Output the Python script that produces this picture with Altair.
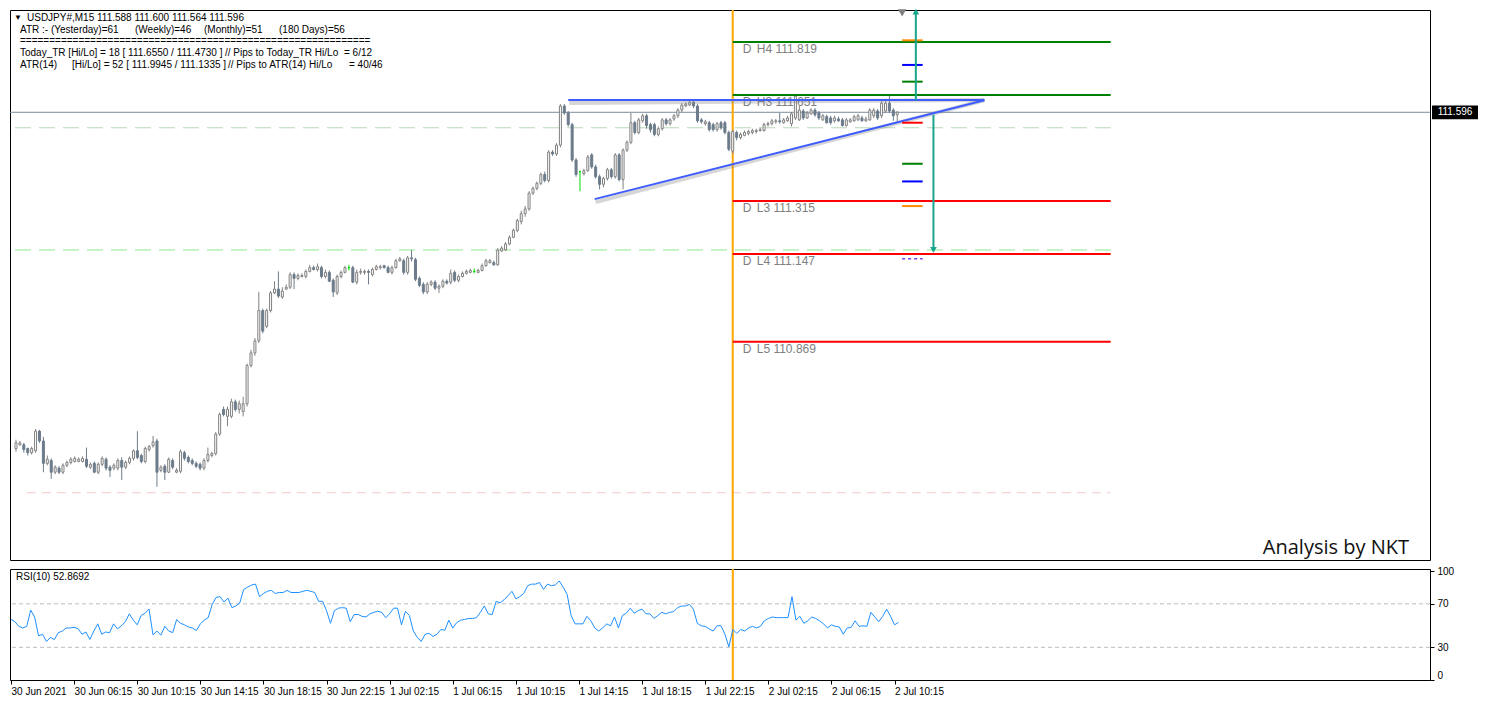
import json
import numpy as np
import pandas as pd
import altair as alt

# ---------------- data ----------------
opens = [
    110.531, 110.543, 110.543, 110.531, 110.518, 110.524, 110.586, 110.555, 110.484, 110.493,
    110.456, 110.469, 110.456, 110.478, 110.487, 110.490, 110.490, 110.490, 110.497, 110.472,
    110.484, 110.456, 110.481, 110.497, 110.472, 110.469, 110.469, 110.493, 110.472, 110.487,
    110.500, 110.524, 110.509, 110.490, 110.528, 110.540, 110.555, 110.462, 110.475, 110.456,
    110.493, 110.456, 110.459, 110.518, 110.503, 110.493, 110.484, 110.481, 110.469, 110.493,
    110.509, 110.515, 110.577, 110.655, 110.633, 110.633, 110.679, 110.655, 110.648, 110.673,
    110.794, 110.834, 110.872, 110.968, 110.918, 110.968, 111.024, 111.036, 111.011, 111.036,
    111.042, 111.082, 111.070, 111.076, 111.076, 111.092, 111.104, 111.098, 111.104, 111.076,
    111.089, 111.064, 111.024, 111.076, 111.089, 111.104, 111.104, 111.058, 111.089, 111.089,
    111.092, 111.082, 111.098, 111.104, 111.110, 111.104, 111.089, 111.104, 111.126, 111.126,
    111.089, 111.135, 111.129, 111.070, 111.051, 111.027, 111.051, 111.058, 111.039, 111.045,
    111.061, 111.058, 111.089, 111.064, 111.076, 111.086, 111.089, 111.092, 111.089, 111.095,
    111.110, 111.120, 111.120, 111.113, 111.157, 111.160, 111.179, 111.200, 111.222, 111.250,
    111.275, 111.290, 111.340, 111.355, 111.371, 111.399, 111.380, 111.470, 111.464, 111.492,
    111.616, 111.594, 111.557, 111.445, 111.408, 111.402, 111.411, 111.461, 111.423, 111.392,
    111.368, 111.386, 111.414, 111.392, 111.461, 111.383, 111.476, 111.501, 111.563, 111.532,
    111.569, 111.585, 111.557, 111.557, 111.526, 111.544, 111.572, 111.560, 111.575, 111.585,
    111.603, 111.616, 111.619, 111.628, 111.616, 111.572, 111.560, 111.563, 111.557, 111.541,
    111.563, 111.563, 111.532, 111.473, 111.532, 111.516, 111.523, 111.529, 111.532, 111.535,
    111.538, 111.538, 111.557, 111.560, 111.566, 111.569, 111.563, 111.569, 111.560, 111.578,
    111.572, 111.600, 111.578, 111.591, 111.603, 111.594, 111.572, 111.582, 111.578, 111.569,
    111.575, 111.572, 111.554, 111.566, 111.569, 111.572, 111.578, 111.569, 111.572, 111.585,
    111.600, 111.585, 111.600, 111.625, 111.603, 111.588,
]
highs = [
    110.559, 110.555, 110.549, 110.534, 110.537, 110.593, 110.590, 110.568, 110.509, 110.500,
    110.478, 110.475, 110.484, 110.493, 110.503, 110.506, 110.503, 110.506, 110.534, 110.487,
    110.490, 110.487, 110.506, 110.503, 110.478, 110.484, 110.500, 110.503, 110.493, 110.506,
    110.528, 110.586, 110.515, 110.537, 110.543, 110.571, 110.562, 110.478, 110.481, 110.503,
    110.500, 110.469, 110.528, 110.524, 110.509, 110.500, 110.490, 110.487, 110.500, 110.534,
    110.521, 110.583, 110.645, 110.664, 110.664, 110.689, 110.686, 110.683, 110.695, 110.800,
    110.844, 110.881, 111.027, 110.974, 110.974, 111.030, 111.061, 111.092, 111.042, 111.051,
    111.089, 111.089, 111.086, 111.086, 111.098, 111.113, 111.110, 111.117, 111.110, 111.098,
    111.095, 111.070, 111.082, 111.095, 111.110, 111.113, 111.110, 111.098, 111.101, 111.098,
    111.098, 111.104, 111.113, 111.113, 111.113, 111.110, 111.110, 111.132, 111.138, 111.132,
    111.141, 111.160, 111.135, 111.076, 111.058, 111.058, 111.064, 111.064, 111.051, 111.067,
    111.067, 111.098, 111.095, 111.082, 111.092, 111.098, 111.101, 111.101, 111.101, 111.117,
    111.132, 111.132, 111.126, 111.166, 111.172, 111.185, 111.206, 111.228, 111.259, 111.284,
    111.299, 111.346, 111.361, 111.377, 111.405, 111.408, 111.476, 111.476, 111.498, 111.622,
    111.622, 111.600, 111.563, 111.451, 111.411, 111.417, 111.461, 111.467, 111.430, 111.399,
    111.392, 111.420, 111.420, 111.467, 111.467, 111.482, 111.507, 111.594, 111.569, 111.578,
    111.591, 111.591, 111.563, 111.563, 111.551, 111.578, 111.578, 111.578, 111.591, 111.609,
    111.625, 111.628, 111.634, 111.634, 111.622, 111.578, 111.572, 111.569, 111.563, 111.566,
    111.569, 111.569, 111.538, 111.541, 111.538, 111.532, 111.538, 111.541, 111.544, 111.544,
    111.547, 111.563, 111.566, 111.575, 111.575, 111.594, 111.578, 111.585, 111.597, 111.653,
    111.616, 111.606, 111.600, 111.609, 111.609, 111.600, 111.591, 111.588, 111.585, 111.585,
    111.582, 111.578, 111.578, 111.578, 111.588, 111.591, 111.585, 111.582, 111.609, 111.609,
    111.606, 111.631, 111.631, 111.650, 111.609, 111.600,
]
lows = [
    110.521, 110.540, 110.518, 110.509, 110.512, 110.518, 110.549, 110.456, 110.478, 110.435,
    110.450, 110.450, 110.450, 110.472, 110.481, 110.487, 110.487, 110.487, 110.469, 110.466,
    110.453, 110.450, 110.475, 110.462, 110.441, 110.462, 110.462, 110.431, 110.466, 110.481,
    110.493, 110.497, 110.484, 110.484, 110.521, 110.534, 110.410, 110.456, 110.431, 110.453,
    110.466, 110.453, 110.453, 110.493, 110.484, 110.478, 110.469, 110.462, 110.462, 110.487,
    110.503, 110.509, 110.571, 110.633, 110.602, 110.627, 110.648, 110.642, 110.633, 110.664,
    110.788, 110.825, 110.865, 110.896, 110.912, 110.962, 111.020, 111.008, 111.005, 111.033,
    111.036, 111.036, 111.064, 111.073, 111.070, 111.089, 111.095, 111.092, 111.070, 111.070,
    111.058, 111.011, 111.017, 111.070, 111.086, 111.095, 111.055, 111.051, 111.082, 111.082,
    111.051, 111.076, 111.095, 111.098, 111.101, 111.086, 111.082, 111.101, 111.123, 111.082,
    111.082, 111.123, 111.061, 111.042, 111.020, 111.020, 111.045, 111.033, 111.024, 111.039,
    111.051, 111.051, 111.058, 111.058, 111.073, 111.082, 111.086, 111.086, 111.086, 111.092,
    111.107, 111.117, 111.110, 111.110, 111.154, 111.157, 111.175, 111.197, 111.216, 111.241,
    111.265, 111.284, 111.334, 111.349, 111.365, 111.374, 111.374, 111.458, 111.458, 111.485,
    111.588, 111.551, 111.439, 111.392, 111.346, 111.396, 111.408, 111.417, 111.386, 111.352,
    111.358, 111.380, 111.386, 111.386, 111.377, 111.352, 111.470, 111.495, 111.526, 111.526,
    111.563, 111.544, 111.532, 111.520, 111.520, 111.538, 111.554, 111.554, 111.569, 111.578,
    111.597, 111.613, 111.616, 111.609, 111.563, 111.560, 111.554, 111.535, 111.535, 111.535,
    111.541, 111.526, 111.473, 111.464, 111.507, 111.510, 111.520, 111.523, 111.526, 111.529,
    111.535, 111.535, 111.551, 111.554, 111.560, 111.560, 111.560, 111.566, 111.551, 111.572,
    111.569, 111.572, 111.575, 111.588, 111.582, 111.572, 111.569, 111.560, 111.557, 111.563,
    111.566, 111.551, 111.551, 111.563, 111.566, 111.569, 111.566, 111.566, 111.569, 111.578,
    111.572, 111.578, 111.594, 111.594, 111.569, 111.564,
]
closes = [
    110.549, 110.549, 110.528, 110.518, 110.531, 110.586, 110.555, 110.484, 110.497, 110.456,
    110.472, 110.456, 110.478, 110.487, 110.497, 110.500, 110.497, 110.500, 110.475, 110.481,
    110.456, 110.481, 110.500, 110.469, 110.462, 110.478, 110.493, 110.472, 110.487, 110.500,
    110.524, 110.503, 110.490, 110.531, 110.537, 110.552, 110.456, 110.472, 110.456, 110.497,
    110.472, 110.462, 110.521, 110.500, 110.490, 110.484, 110.475, 110.469, 110.493, 110.512,
    110.515, 110.577, 110.639, 110.639, 110.655, 110.679, 110.655, 110.673, 110.673, 110.794,
    110.834, 110.872, 110.968, 110.903, 110.968, 111.024, 111.036, 111.014, 111.030, 111.042,
    111.082, 111.070, 111.079, 111.079, 111.092, 111.104, 111.098, 111.107, 111.076, 111.089,
    111.061, 111.027, 111.076, 111.089, 111.104, 111.104, 111.058, 111.089, 111.092, 111.092,
    111.089, 111.098, 111.107, 111.107, 111.104, 111.089, 111.104, 111.126, 111.132, 111.089,
    111.135, 111.132, 111.067, 111.048, 111.027, 111.051, 111.058, 111.039, 111.045, 111.061,
    111.055, 111.086, 111.064, 111.076, 111.086, 111.092, 111.095, 111.092, 111.095, 111.110,
    111.126, 111.126, 111.113, 111.160, 111.166, 111.179, 111.200, 111.222, 111.253, 111.275,
    111.290, 111.340, 111.355, 111.371, 111.399, 111.380, 111.470, 111.464, 111.492, 111.616,
    111.594, 111.557, 111.445, 111.399, 111.408, 111.411, 111.454, 111.423, 111.392, 111.368,
    111.386, 111.414, 111.392, 111.461, 111.383, 111.476, 111.501, 111.563, 111.532, 111.572,
    111.585, 111.554, 111.541, 111.526, 111.544, 111.572, 111.560, 111.572, 111.585, 111.603,
    111.619, 111.622, 111.628, 111.616, 111.569, 111.566, 111.566, 111.541, 111.541, 111.560,
    111.547, 111.532, 111.479, 111.535, 111.516, 111.526, 111.532, 111.535, 111.538, 111.538,
    111.541, 111.557, 111.560, 111.569, 111.569, 111.566, 111.572, 111.578, 111.591, 111.647,
    111.603, 111.578, 111.594, 111.603, 111.588, 111.578, 111.585, 111.563, 111.563, 111.578,
    111.569, 111.554, 111.572, 111.572, 111.582, 111.585, 111.569, 111.575, 111.603, 111.603,
    111.578, 111.625, 111.625, 111.600, 111.585, 111.596,
]
rsi_values = [
    55.6, 53.6, 49.3, 47.8, 49.3, 64.2, 57.9, 40.6, 42.0, 35.4,
    39.2, 37.2, 43.5, 44.9, 47.8, 47.8, 48.4, 47.2, 42.1, 44.1,
    37.2, 45.0, 51.6, 42.1, 44.1, 43.5, 51.6, 47.0, 49.8, 53.6,
    60.8, 55.0, 50.7, 59.3, 61.4, 65.1, 41.5, 45.0, 41.2, 49.3,
    45.0, 43.5, 55.6, 52.1, 50.7, 48.7, 47.8, 45.5, 51.6, 55.0,
    57.3, 69.4, 75.8, 76.6, 71.7, 75.2, 66.5, 68.0, 70.9, 83.2,
    85.3, 87.3, 88.1, 76.6, 79.5, 81.5, 82.4, 79.5, 80.4, 80.4,
    82.4, 80.4, 80.4, 80.4, 81.5, 82.4, 81.5, 80.4, 72.3, 72.3,
    63.7, 52.1, 63.7, 66.0, 66.5, 66.0, 53.6, 60.2, 60.2, 58.5,
    57.9, 60.8, 62.2, 63.1, 62.2, 57.3, 60.8, 66.0, 66.0, 50.7,
    63.1, 59.3, 45.0, 39.2, 35.4, 42.1, 42.9, 40.0, 42.1, 46.4,
    45.8, 55.0, 47.8, 52.7, 55.0, 55.6, 56.5, 56.5, 57.3, 62.2,
    68.0, 60.8, 60.2, 72.3, 70.9, 73.7, 77.5, 81.5, 74.6, 76.6,
    79.5, 86.7, 88.1, 88.1, 89.6, 83.2, 88.1, 86.7, 87.3, 91.0,
    85.3, 78.6, 59.3, 51.6, 51.6, 51.6, 58.5, 54.4, 47.8, 45.0,
    47.8, 51.6, 49.8, 57.9, 47.8, 59.3, 61.4, 66.0, 61.4, 63.7,
    65.1, 60.8, 60.8, 56.5, 59.3, 62.2, 60.8, 62.2, 62.8, 66.5,
    68.0, 68.0, 69.4, 65.1, 52.1, 49.8, 49.3, 47.0, 45.0, 49.8,
    49.8, 42.1, 30.5, 46.4, 42.9, 46.4, 45.0, 47.8, 49.3, 47.8,
    49.3, 54.4, 56.5, 57.9, 57.3, 57.3, 57.3, 57.3, 76.6, 55.0,
    58.5, 52.1, 54.4, 57.9, 56.5, 54.4, 51.6, 47.8, 50.7, 49.3,
    48.7, 42.1, 47.8, 48.4, 54.4, 49.3, 49.8, 49.3, 62.2, 57.9,
    53.6, 58.5, 65.1, 58.5, 50.7, 52.9,
]

tick_index = [0, 16, 32, 48, 64, 80, 96, 112, 128, 144, 160, 176, 192, 208, 224]
tick_labels = ["30 Jun 2021", "30 Jun 06:15", "30 Jun 10:15", "30 Jun 14:15",
               "30 Jun 18:15", "30 Jun 22:15", "1 Jul 02:15", "1 Jul 06:15",
               "1 Jul 10:15", "1 Jul 14:15", "1 Jul 18:15", "1 Jul 22:15",
               "2 Jul 02:15", "2 Jul 06:15", "2 Jul 10:15"]
price_ticks = [111.855, 111.750, 111.645, 111.540, 111.440, 111.335, 111.230, 111.125,
               111.025, 110.920, 110.815, 110.710, 110.605, 110.505, 110.400, 110.295, 110.190]
rsi_ticks = [0, 30, 70, 100]
rsi_levels = [30, 70]

day_start = 183          # bar index of 2 Jul 00:00
objects_end = 279.5      # right end of level / dashed lines (bar index)
level_names = ["H4", "H3", "L3", "L4", "L5"]
level_values = [111.819, 111.651, 111.315, 111.147, 110.869]
level_colors = ["#008000", "#008000", "#ff0000", "#ff0000", "#ff0000"]

dashed_values = [111.547, 111.160, 110.391]
dashed_starts = [-0.25, -0.25, 2.75]
dashed_colors = ["#b5d9b5", "#8fe88f", "#f7caca"]

marker_values = [111.824, 111.746, 111.693, 111.563, 111.433, 111.377, 111.299]
marker_colors = ["#ff8c00", "#0000ff", "#008000", "#ff0000", "#008000", "#0000ff", "#ff8c00"]
marker_dash_value = 111.132
marker_start, marker_end = 226.25, 231.5

trend_x1 = [141.0, 147.75]
trend_x2 = [247.25, 247.25]
trend_y1 = [111.635, 111.321]
trend_y2 = [111.635, 111.634]

arrow_x = [229.75, 234.25]
arrow_from = [111.634, 111.588]
arrow_to = [111.915, 111.160]
arrow_shapes = ["triangle-up", "triangle-down"]

top_marker_x, top_marker_y = 226.25, 111.911

# ---------------- layout / styles ----------------
FONT = "Liberation Sans"
W, HM, HR = 1420, 550, 111
XS = alt.Scale(domain=[-0.25, 359.75], nice=False, zero=False)
YS = alt.Scale(domain=[110.178, 111.920], nice=False, zero=False)
RS = alt.Scale(domain=[0, 102], nice=False, zero=False)
one = pd.DataFrame({"k": [0]})


def X(f):
    return alt.X(f, type="quantitative", scale=XS, axis=None)


def Y(f, axis=None):
    return alt.Y(f, type="quantitative", scale=YS, axis=axis)


def label(txt, px, py, size=10, color="black", align="left", font=FONT, baseline="middle", weight="normal"):
    return alt.Chart(one).mark_text(text=txt, align=align, baseline=baseline, fontSize=size,
                                    font=font, color=color, fontWeight=weight).encode(
        x=alt.value(px), y=alt.value(py))


price_axis = alt.Axis(orient="right", values=price_ticks, format=".3f", tickSize=4,
                      tickColor="black", labelColor="black", labelFont=FONT, labelFontSize=10,
                      labelPadding=3, domain=False, grid=False, title=None, labelOverlap=False)

last_df = pd.DataFrame({"price": [closes[-1]]})
price_line = alt.Chart(last_df).mark_rule(color="#7b8ca0", strokeWidth=1).encode(
    y=Y("price:Q", price_axis))

layers = [price_line]

for v, s, c, dash in zip(dashed_values, dashed_starts, dashed_colors, [[16, 8], [16, 8], [9, 6]]):
    d = pd.DataFrame({"s": [s], "e": [objects_end], "p": [v]})
    layers.append(alt.Chart(d).mark_rule(color=c, strokeWidth=1, strokeDash=dash).encode(
        x=X("s"), x2="e", y=Y("p")))

day_df = pd.DataFrame({"d": [day_start]})
layers.append(alt.Chart(day_df).mark_rule(color="#ffa500", strokeWidth=2).encode(x=X("d")))

lvl_df = pd.DataFrame({"name": level_names, "value": level_values,
                       "start": [day_start] * len(level_names), "end": [objects_end] * len(level_names)})
lvl_df["txt"] = [f"{n} {v:.3f}" for n, v in zip(level_names, level_values)]
layers.append(alt.Chart(lvl_df).mark_text(text="D", align="left", baseline="middle", dx=10, dy=7,
                                          fontSize=12, font=FONT, color="#808080").encode(
    x=X("start"), y=Y("value")))
layers.append(alt.Chart(lvl_df).mark_text(align="left", baseline="middle", dx=24, dy=7,
                                          fontSize=12, font=FONT, color="#808080").encode(
    x=X("start"), y=Y("value"), text="txt:N"))

# candles
cdf = pd.DataFrame({"i": list(range(len(closes))), "open": opens, "high": highs,
                    "low": lows, "close": closes})
cdf["kind"] = np.where(cdf["close"] > cdf["open"], "up",
                       np.where(cdf["close"] < cdf["open"], "down", "doji"))
kinds = ["up", "down", "doji"]
wick_scale = alt.Scale(domain=kinds, range=["#808080", "#6c7b8b", "#00dd00"])
fill_scale = alt.Scale(domain=kinds, range=["#ffffff", "#6c7b8b", "#00dd00"])
layers.append(alt.Chart(cdf).mark_rule(strokeWidth=1).encode(
    x=X("i"), y=Y("low"), y2="high",
    color=alt.Color("kind:N", scale=wick_scale, legend=None)))
layers.append(alt.Chart(cdf).mark_bar(size=2, strokeWidth=1).encode(
    x=X("i"), y=Y("open"), y2="close",
    fill=alt.Fill("kind:N", scale=fill_scale, legend=None),
    stroke=alt.Stroke("kind:N", scale=wick_scale, legend=None)))

# level lines (one layer per level so colours stay fixed)
for n, v, c in zip(level_names, level_values, level_colors):
    d = pd.DataFrame({"start": [day_start], "end": [objects_end], "value": [v]})
    layers.append(alt.Chart(d).mark_rule(strokeWidth=2, color=c).encode(
        x=X("start"), x2="end", y=Y("value")))

# trend lines with shadow
tr_df = pd.DataFrame({"x1": trend_x1, "x2": trend_x2, "y1": trend_y1, "y2": trend_y2})
layers.append(alt.Chart(tr_df).mark_rule(color="#8a8a8a", strokeWidth=4, opacity=0.35,
                                         yOffset=3, xOffset=1).encode(
    x=X("x1"), x2="x2", y=Y("y1"), y2="y2"))
layers.append(alt.Chart(tr_df).mark_rule(color="#3f5cff", strokeWidth=2).encode(
    x=X("x1"), x2="x2", y=Y("y1"), y2="y2"))

# short markers at right
for v, c in zip(marker_values, marker_colors):
    d = pd.DataFrame({"s": [marker_start], "e": [marker_end], "v": [v]})
    layers.append(alt.Chart(d).mark_rule(strokeWidth=2, color=c).encode(
        x=X("s"), x2="e", y=Y("v")))
mkd = pd.DataFrame({"s": [marker_start], "e": [marker_end], "v": [marker_dash_value]})
layers.append(alt.Chart(mkd).mark_rule(strokeWidth=1.5, color="#7b3fe0", strokeDash=[3, 3]).encode(
    x=X("s"), x2="e", y=Y("v")))

# teal arrows
ar_df = pd.DataFrame({"x": arrow_x, "a": arrow_from, "b": arrow_to, "shape": arrow_shapes})
layers.append(alt.Chart(ar_df).mark_rule(color="#17a58c", strokeWidth=2).encode(
    x=X("x"), y=Y("a"), y2="b"))
layers.append(alt.Chart(ar_df).mark_point(filled=True, color="#17a58c", size=45, opacity=1).encode(
    x=X("x"), y=Y("b"),
    shape=alt.Shape("shape:N", scale=alt.Scale(domain=arrow_shapes, range=arrow_shapes), legend=None)))

tm_df = pd.DataFrame({"x": [top_marker_x], "y": [top_marker_y]})
layers.append(alt.Chart(tm_df).mark_point(filled=True, shape="triangle-down", color="#7f7f7f",
                                          size=70, opacity=1).encode(x=X("x"), y=Y("y")))

# current price box on the axis
layers.append(alt.Chart(last_df).mark_point(filled=True, color="black", opacity=1, size=2116,
                                            shape="M-1,-0.3H1V0.3H-1Z").encode(
    x=alt.value(W + 25), y=Y("price")))
layers.append(alt.Chart(last_df).mark_text(color="white", fontSize=10, font=FONT, align="center",
                                           baseline="middle").encode(
    x=alt.value(W + 25), y=Y("price"), text=alt.Text("price:Q", format=".3f")))

# header texts
layers += [
    label("\u25BC", 4, 7.5, size=8),
    label("USDJPY#,M15", 17, 7.5),
    label("111.588 111.600 111.564 111.596", 87, 7.5),
    label("ATR :- (Yesterday)=61", 10, 19.5),
    label("(Weekly)=46", 125, 19.5),
    label("(Monthly)=51", 194, 19.5),
    label("(180 Days)=56", 269, 19.5),
    label("=" * 60, 10, 31),
    label("Today_TR [Hi/Lo] = 18 [ 111.6550 / 111.4730 ]", 10, 43),
    label("// Pips to Today_TR Hi/Lo", 215, 43),
    label("= 6/12", 334, 43),
    label("ATR(14)", 10, 55.4),
    label("[Hi/Lo] = 52 [ 111.9945 / 111.1335 ]", 62, 55.4),
    label("// Pips to ATR(14) Hi/Lo", 218, 55.4),
    label("= 40/46", 339, 55.4),
    label("Analysis by NKT", W - 21, HM - 6, size=20, color="#111111", align="right",
          font="Open Sans", baseline="alphabetic"),
]

main = alt.layer(*layers).properties(width=W, height=HM)

# ---------------- RSI panel ----------------
label_expr = f"{json.dumps(tick_labels)}[indexof({json.dumps(tick_index)}, datum.value)]"
x_axis = alt.Axis(values=tick_index, labelExpr=label_expr, labelAlign="left", labelBaseline="top",
                  labelPadding=2, tickSize=4, tickColor="black", labelColor="black",
                  labelFont=FONT, labelFontSize=10, domain=False, grid=False, title=None,
                  labelOverlap=False, labelFlush=False, labelBound=False)
rsi_axis = alt.Axis(orient="right", values=rsi_ticks, tickSize=4, tickColor="black",
                    labelColor="black", labelFont=FONT, labelFontSize=10, labelPadding=3,
                    domain=False, grid=False, title=None, labelFlush=True)

rdf = pd.DataFrame({"i": list(range(len(rsi_values))), "rsi": rsi_values})
rl_df = pd.DataFrame({"lv": rsi_levels})
rsi_layers = [
    alt.Chart(rl_df).mark_rule(color="#bdbdbd", strokeWidth=1, strokeDash=[4, 3]).encode(
        y=alt.Y("lv:Q", scale=RS, axis=rsi_axis)),
    alt.Chart(day_df).mark_rule(color="#ffa500", strokeWidth=2).encode(
        x=alt.X("d:Q", scale=XS, axis=x_axis)),
    alt.Chart(rdf).mark_line(color="#1e90ff", strokeWidth=1).encode(
        x=alt.X("i:Q", scale=XS, axis=x_axis), y=alt.Y("rsi:Q", scale=RS, axis=rsi_axis)),
    label("RSI(10) 52.8692", 6, 8),
]
rsi = alt.layer(*rsi_layers).properties(width=W, height=HR)

chart = (alt.vconcat(main, rsi, spacing=3)
         .properties(padding=0, background="white")
         .configure_view(stroke="black", strokeWidth=1)
         .configure_axis(labelFont=FONT))

chart.save("out.html", embed_options={"renderer": "svg", "actions": False})
